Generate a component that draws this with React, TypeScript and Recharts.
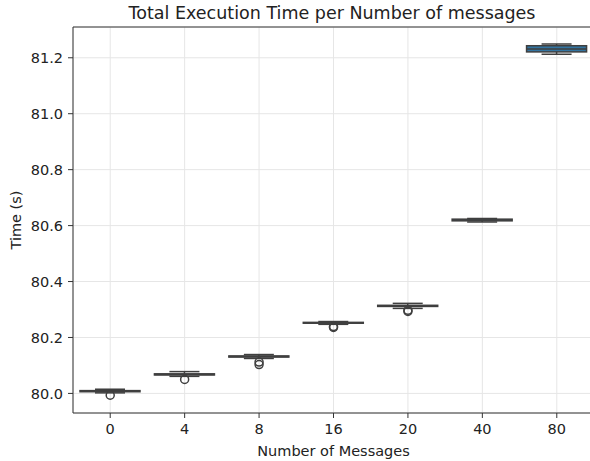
import React from "react";
import { ComposedChart, Bar, Line, XAxis, YAxis, CartesianGrid, ReferenceLine, Label } from "recharts";

const categories = ["0", "4", "8", "16", "20", "40", "80"];
const whiskerLow = [80.002, 80.061, 80.125, 80.247, 80.304, 80.6125, 81.213];
const q1 = [80.006, 80.066, 80.13, 80.251, 80.311, 80.617, 81.221];
const median = [80.008, 80.068, 80.132, 80.2525, 80.313, 80.62, 81.231];
const q3 = [80.01, 80.07, 80.134, 80.254, 80.315, 80.623, 81.243];
const whiskerHigh = [80.015, 80.078, 80.139, 80.257, 80.322, 80.6255, 81.249];
const outlierA = [79.9935, 80.05, 80.112, 80.239, 80.297, null, null];
const outlierB = [null, null, 80.103, 80.236, 80.293, null, null];
const yTicks = [80.0, 80.2, 80.4, 80.6, 80.8, 81.0, 81.2];

const Y_MIN = 79.93;
const Y_MAX = 81.31;

const data = categories.map((c, i) => ({
  label: c,
  lo: whiskerLow[i],
  q1: q1[i],
  med: median[i],
  q3: q3[i],
  hi: whiskerHigh[i],
  out1: outlierA[i],
  out2: outlierB[i],
}));

const FONT = "'DejaVu Sans', sans-serif";
const EDGE = "#3f3f3f";
const FILL = "#3274a1";
const TEXT = "#222";
const GRID = "#e6e6e6";

// box drawn inside the range bar [lo, hi]; inner stats placed on the same scale
const BoxShape = (props: any) => {
  const { x, y, width, height, payload } = props;
  const { lo, hi } = payload;
  const toY = (v: number) => y + ((hi - v) / (hi - lo)) * height;
  const cx = x + width / 2;
  const cap = width / 4;
  const yQ1 = toY(payload.q1);
  const yQ3 = toY(payload.q3);
  const yMed = toY(payload.med);
  const yLo = y + height;
  return (
    <g>
      <line x1={cx} x2={cx} y1={y} y2={yQ3} stroke={EDGE} strokeWidth={1.5} />
      <line x1={cx} x2={cx} y1={yQ1} y2={yLo} stroke={EDGE} strokeWidth={1.5} />
      <line x1={cx - cap} x2={cx + cap} y1={y} y2={y} stroke={EDGE} strokeWidth={1.5} />
      <line x1={cx - cap} x2={cx + cap} y1={yLo} y2={yLo} stroke={EDGE} strokeWidth={1.5} />
      <rect x={x} y={yQ3} width={width} height={Math.max(yQ1 - yQ3, 0.5)} fill={FILL} stroke={EDGE} strokeWidth={1.5} />
      <line x1={x} x2={x + width} y1={yMed} y2={yMed} stroke={EDGE} strokeWidth={1.5} />
    </g>
  );
};

const FlierDot = (props: any) => {
  const { cx, cy, value } = props;
  if (value == null || cy == null) return null;
  return <circle cx={cx} cy={cy} r={4} fill="none" stroke={EDGE} strokeWidth={1.5} />;
};

export default function App() {
  return (
    <div style={{ position: "absolute", left: 0, top: 0, width: 590, height: 461, overflow: "hidden", background: "#fff" }}>
      <ComposedChart
        width={600}
        height={461}
        data={data}
        margin={{ top: 27, right: 6, left: 0, bottom: 0 }}
        barSize={60}
      >
        <CartesianGrid stroke={GRID} strokeWidth={1} />
        <XAxis
          dataKey="label"
          type="category"
          height={48}
          tickSize={5}
          tickMargin={6}
          stroke="#333"
          tick={{ fill: TEXT, fontSize: 14.5, fontFamily: FONT }}
        >
          <Label
            content={({ viewBox }: any) => (
              <text
                x={viewBox.x + viewBox.width / 2}
                y={viewBox.y + 43}
                textAnchor="middle"
                fill={TEXT}
                fontSize={14.5}
                fontFamily={FONT}
              >
                Number of Messages
              </text>
            )}
          />
        </XAxis>
        <YAxis
          type="number"
          domain={[Y_MIN, Y_MAX]}
          ticks={yTicks}
          width={73}
          tickSize={5}
          tickMargin={5}
          stroke="#333"
          allowDataOverflow
          tickFormatter={(v) => v.toFixed(1)}
          tick={{ fill: TEXT, fontSize: 14.5, fontFamily: FONT }}
        >
          <Label
            content={({ viewBox }: any) => {
              const cy = viewBox.y + viewBox.height / 2;
              return (
                <text
                  x={21}
                  y={cy}
                  transform={`rotate(-90, 21, ${cy})`}
                  textAnchor="middle"
                  fill={TEXT}
                  fontSize={14.5}
                  fontFamily={FONT}
                >
                  Time (s)
                </text>
              );
            }}
          />
        </YAxis>
        <ReferenceLine y={Y_MAX} stroke="#333" strokeWidth={1} />
        <Bar dataKey={(d: any) => [d.lo, d.hi]} shape={BoxShape} isAnimationActive={false} />
        <Line dataKey="out1" stroke="none" dot={FlierDot} activeDot={false} isAnimationActive={false} />
        <Line dataKey="out2" stroke="none" dot={FlierDot} activeDot={false} isAnimationActive={false} />
      </ComposedChart>
      <svg width={590} height={30} style={{ position: "absolute", left: 0, top: 0 }}>
        <text x={332} y={18.5} textAnchor="middle" fill={TEXT} fontSize={17.5} fontFamily={FONT}>
          Total Execution Time per Number of messages
        </text>
      </svg>
    </div>
  );
}
